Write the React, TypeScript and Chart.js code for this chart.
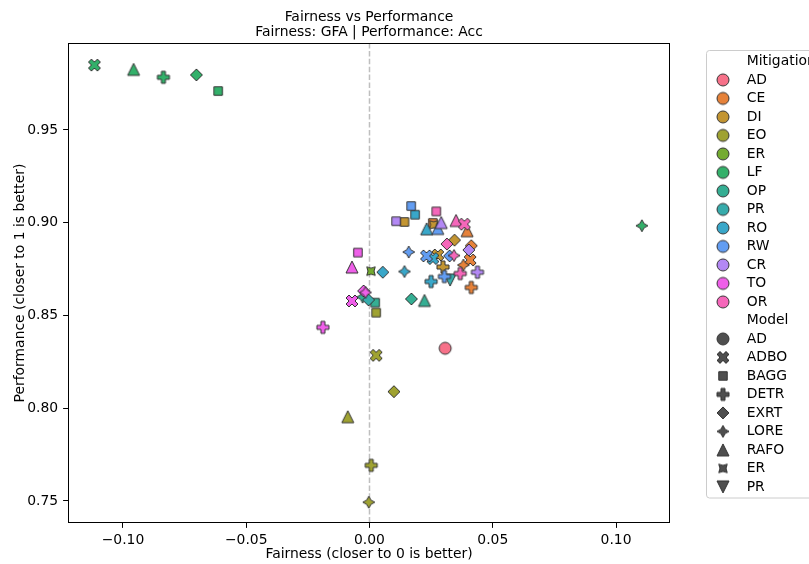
import React, { useEffect, useRef } from "react";
import { Chart, registerables } from "chart.js";

Chart.register(...registerables);

// [model, fairness (GFA), performance (Acc)]
type Pt = [string, number, number];

const TITLE_LINES = ["Fairness vs Performance", "Fairness: GFA | Performance: Acc"];
const X_LABEL = "Fairness (closer to 0 is better)";
const Y_LABEL = "Performance (closer to 1 is better)";

const MITIGATIONS = ["AD", "CE", "DI", "EO", "ER", "LF", "OP", "PR", "RO", "RW", "CR", "TO", "OR"];
const MITIGATION_COLORS = [
  "#f77189", "#e6823a", "#c39532", "#9fa231", "#74ab31", "#33b06a", "#35ae93",
  "#37abab", "#39a7c9", "#629df2", "#b388f4", "#ef5fe9", "#f567ba",
];
const MODELS = ["AD", "ADBO", "BAGG", "DETR", "EXRT", "LORE", "RAFO", "ER", "PR"];
const MODEL_SHAPES = ["circle", "xfill", "square", "plus", "diamond", "star4", "triUp", "star4rot", "triDown"];

const X_TICKS = [-0.1, -0.05, 0, 0.05, 0.1];
const Y_TICKS = [0.75, 0.8, 0.85, 0.9, 0.95];
const X_MIN = -0.1223;
const X_MAX = 0.1219;
const Y_MIN = 0.7381;
const Y_MAX = 0.9969;

const AD_PTS: Pt[] = [["AD", 0.0307, 0.8323]];
const CE_PTS: Pt[] = [
  ["BAGG", 0.0257, 0.8999], ["RAFO", 0.0396, 0.8957], ["EXRT", 0.0413, 0.8876],
  ["ADBO", 0.0408, 0.8799], ["LORE", 0.0381, 0.8772], ["DETR", 0.0413, 0.8651],
];
const DI_PTS: Pt[] = [
  ["BAGG", 0.0142, 0.9004], ["ER", 0.026, 0.8989], ["EXRT", 0.0345, 0.8906],
  ["ADBO", 0.0277, 0.8826], ["DETR", 0.0298, 0.8761],
];
const EO_PTS: Pt[] = [
  ["BAGG", 0.0027, 0.8515], ["ADBO", 0.0027, 0.8285], ["EXRT", 0.0099, 0.8089],
  ["RAFO", -0.0088, 0.7954], ["DETR", 0.0007, 0.7692], ["LORE", -0.0003, 0.7493],
];
const ER_PTS: Pt[] = [["ER", 0.0006, 0.8739]];
const LF_PTS: Pt[] = [
  ["ADBO", -0.1116, 0.985], ["RAFO", -0.0957, 0.9827], ["DETR", -0.0836, 0.9784],
  ["EXRT", -0.0702, 0.9797], ["BAGG", -0.0614, 0.971], ["LORE", 0.1105, 0.8984],
];
const OP_PTS: Pt[] = [
  ["LORE", -0.0028, 0.8599], ["BAGG", 0.0023, 0.8569], ["EXRT", 0.017, 0.8589], ["RAFO", 0.0223, 0.8581],
];
const PR_PTS: Pt[] = [["EXRT", -0.0004, 0.8584], ["PR", 0.0327, 0.8691]];
const RO_PTS: Pt[] = [
  ["BAGG", 0.0185, 0.9043], ["RAFO", 0.0232, 0.8967], ["EXRT", 0.0054, 0.8733],
  ["LORE", 0.0142, 0.8737], ["ADBO", 0.0257, 0.8807], ["DETR", 0.025, 0.8683],
];
const RW_PTS: Pt[] = [
  ["BAGG", 0.0169, 0.909], ["RAFO", 0.0277, 0.8969], ["LORE", 0.0159, 0.8842],
  ["ADBO", 0.0231, 0.8821], ["EXRT", 0.0325, 0.8821], ["DETR", 0.0304, 0.871],
];
const CR_PTS: Pt[] = [
  ["BAGG", 0.0108, 0.9008], ["RAFO", 0.0291, 0.9001], ["EXRT", 0.0403, 0.8853], ["DETR", 0.0438, 0.8733],
];
const TO_PTS: Pt[] = [
  ["BAGG", -0.0047, 0.8839], ["RAFO", -0.0071, 0.8761], ["EXRT", -0.0024, 0.8632],
  ["LORE", -0.0016, 0.8624], ["ADBO", -0.0071, 0.8578], ["DETR", -0.0189, 0.8436],
];
const OR_PTS: Pt[] = [
  ["BAGG", 0.0271, 0.9061], ["RAFO", 0.0351, 0.9012], ["ADBO", 0.0385, 0.8992],
  ["EXRT", 0.0314, 0.8885], ["LORE", 0.0343, 0.8823], ["DETR", 0.0368, 0.8726],
];

const SERIES: Pt[][] = [
  AD_PTS, CE_PTS, DI_PTS, EO_PTS, ER_PTS, LF_PTS, OP_PTS, PR_PTS, RO_PTS, RW_PTS, CR_PTS, TO_PTS, OR_PTS,
];

const FONT_FAMILY = "DejaVu Sans";
const FONT_SIZE = 13.9;
const MARKER_SIZE = 12;
const EDGE = "#333333";
const LEGEND_STYLE_COLOR = "#4f4f4f";

function tracePath(ctx: CanvasRenderingContext2D, shape: string, cx: number, cy: number, s: number) {
  ctx.beginPath();
  const poly = (pts: number[][]) => {
    pts.forEach(([px, py], i) => {
      const X = cx + px * s;
      const Y = cy - py * s;
      if (i === 0) ctx.moveTo(X, Y);
      else ctx.lineTo(X, Y);
    });
    ctx.closePath();
  };
  const star = (rotDeg: number) => {
    const pts: number[][] = [];
    for (let k = 0; k < 8; k++) {
      const a = ((90 + rotDeg + k * 45) * Math.PI) / 180;
      const r = k % 2 === 0 ? 0.5 : 0.25;
      pts.push([r * Math.cos(a), r * Math.sin(a)]);
    }
    poly(pts);
  };
  switch (shape) {
    case "circle":
      ctx.arc(cx, cy, s / 2, 0, Math.PI * 2);
      ctx.closePath();
      break;
    case "xfill":
      poly([[-1, -2], [0, -1], [1, -2], [2, -1], [1, 0], [2, 1], [1, 2], [0, 1], [-1, 2], [-2, 1], [-1, 0], [-2, -1]].map(([a, b]) => [a / 4, b / 4]));
      break;
    case "plus":
      poly([[-1, -3], [1, -3], [1, -1], [3, -1], [3, 1], [1, 1], [1, 3], [-1, 3], [-1, 1], [-3, 1], [-3, -1], [-1, -1]].map(([a, b]) => [a / 6, b / 6]));
      break;
    case "square": {
      const a = 0.5 / Math.SQRT2;
      poly([[-a, -a], [a, -a], [a, a], [-a, a]]);
      break;
    }
    case "diamond":
      poly([[0, 0.5], [-0.5, 0], [0, -0.5], [0.5, 0]]);
      break;
    case "star4":
      star(0);
      break;
    case "star4rot":
      star(45);
      break;
    case "triUp":
      poly([[0, 0.5], [-0.5, -0.5], [0.5, -0.5]]);
      break;
    case "triDown":
      poly([[0, -0.5], [-0.5, 0.5], [0.5, 0.5]]);
      break;
  }
}

const markerCache: Record<string, HTMLCanvasElement> = {};
function marker(shape: string, fill: string): HTMLCanvasElement {
  const key = shape + "|" + fill;
  if (markerCache[key]) return markerCache[key];
  const c = document.createElement("canvas");
  c.width = 20;
  c.height = 20;
  const ctx = c.getContext("2d")!;
  tracePath(ctx, shape, 10, 10, MARKER_SIZE);
  ctx.fillStyle = fill;
  ctx.fill();
  ctx.lineWidth = 1;
  ctx.strokeStyle = EDGE;
  ctx.lineJoin = "miter";
  ctx.stroke();
  markerCache[key] = c;
  return c;
}

const fmtTick = (v: number) => (v < 0 ? "\u2212" + Math.abs(v).toFixed(2) : Math.abs(v).toFixed(2));

const decorPlugin = {
  id: "decor",
  beforeDatasetsDraw(chart: any) {
    const { ctx, chartArea, scales } = chart;
    const x0 = scales.x.getPixelForValue(0);
    ctx.save();
    ctx.strokeStyle = "rgba(128,128,128,0.5)";
    ctx.lineWidth = 1.5;
    ctx.setLineDash([5.5, 2.4]);
    ctx.beginPath();
    ctx.moveTo(x0, chartArea.top);
    ctx.lineTo(x0, chartArea.bottom);
    ctx.stroke();
    ctx.restore();
  },
  afterDatasetsDraw(chart: any) {
    const { ctx, chartArea } = chart;
    ctx.save();
    ctx.strokeStyle = "#000";
    ctx.lineWidth = 1;
    ctx.strokeRect(
      Math.round(chartArea.left) + 0.5,
      Math.round(chartArea.top) + 0.5,
      Math.round(chartArea.right - chartArea.left) - 1,
      Math.round(chartArea.bottom - chartArea.top) - 1
    );
    ctx.restore();
  },
  afterDraw(chart: any) {
    const { ctx, chartArea } = chart;
    const font = `${FONT_SIZE}px "${FONT_FAMILY}"`;
    ctx.save();
    // title
    ctx.font = font;
    ctx.fillStyle = "#000";
    ctx.textAlign = "center";
    ctx.textBaseline = "middle";
    const cx = (chartArea.left + chartArea.right) / 2;
    ctx.fillText(TITLE_LINES[0], cx, 17);
    ctx.fillText(TITLE_LINES[1], cx, 32.5);

    // legend box
    const bx = 706.5, by = 50.5, bw = 130, bh = 447.5, r = 3;
    ctx.beginPath();
    ctx.moveTo(bx + r, by);
    ctx.lineTo(bx + bw - r, by);
    ctx.arcTo(bx + bw, by, bx + bw, by + r, r);
    ctx.lineTo(bx + bw, by + bh - r);
    ctx.arcTo(bx + bw, by + bh, bx + bw - r, by + bh, r);
    ctx.lineTo(bx + r, by + bh);
    ctx.arcTo(bx, by + bh, bx, by + bh - r, r);
    ctx.lineTo(bx, by + r);
    ctx.arcTo(bx, by, bx + r, by, r);
    ctx.closePath();
    ctx.fillStyle = "rgba(255,255,255,0.8)";
    ctx.fill();
    ctx.strokeStyle = "#cccccc";
    ctx.lineWidth = 1;
    ctx.stroke();

    const rows: { label: string; img: HTMLCanvasElement | null }[] = [];
    rows.push({ label: "Mitigation", img: null });
    MITIGATIONS.forEach((m, i) => rows.push({ label: m, img: marker("circle", MITIGATION_COLORS[i]) }));
    rows.push({ label: "Model", img: null });
    MODELS.forEach((m, i) => rows.push({ label: m, img: marker(MODEL_SHAPES[i], LEGEND_STYLE_COLOR) }));

    ctx.textAlign = "left";
    ctx.textBaseline = "middle";
    ctx.fillStyle = "#000";
    rows.forEach((row, i) => {
      const y = 61.4 + 18.5 * i;
      if (row.img) ctx.drawImage(row.img, 723 - 10, y - 10);
      ctx.fillText(row.label, 746.7, y);
    });
    ctx.restore();
  },
};

export default function App() {
  const ref = useRef<HTMLCanvasElement>(null);
  useEffect(() => {
    const canvas = ref.current!;
    const font = { family: FONT_FAMILY, size: FONT_SIZE };
    const datasets = SERIES.map((pts, i) => ({
      label: MITIGATIONS[i],
      data: pts.map((p) => ({ x: p[1], y: p[2] })),
      pointStyle: pts.map((p) => marker(MODEL_SHAPES[MODELS.indexOf(p[0])], MITIGATION_COLORS[i])),
      pointRadius: 6,
      backgroundColor: MITIGATION_COLORS[i],
      borderColor: EDGE,
      order: -i,
    }));
    const chart = new Chart(canvas, {
      type: "scatter",
      data: { datasets },
      plugins: [decorPlugin],
      options: {
        animation: false,
        responsive: false,
        devicePixelRatio: 1,
        layout: { padding: { top: 43, left: 0, right: 139, bottom: 0 } },
        plugins: {
          legend: { display: false },
          tooltip: { enabled: false },
          title: { display: false },
        },
        scales: {
          x: {
            type: "linear",
            min: X_MIN,
            max: X_MAX,
            afterBuildTicks: (s: any) => {
              s.ticks = X_TICKS.map((v) => ({ value: v }));
            },
            afterFit: (s: any) => {
              s.height = 41;
            },
            ticks: {
              callback: (v: any) => fmtTick(Number(v)),
              font,
              color: "#000",
              padding: 4.5,
              maxRotation: 0,
              autoSkip: false,
            },
            grid: { drawOnChartArea: false, drawTicks: true, tickLength: 4.9, color: "#000", lineWidth: 1 },
            border: { display: false },
            title: { display: true, text: X_LABEL, font, color: "#000", padding: { top: 0, bottom: 0.8 } },
          },
          y: {
            type: "linear",
            min: Y_MIN,
            max: Y_MAX,
            afterBuildTicks: (s: any) => {
              s.ticks = Y_TICKS.map((v) => ({ value: v }));
            },
            afterFit: (s: any) => {
              s.width = 68;
            },
            ticks: {
              callback: (v: any) => Number(v).toFixed(2),
              font,
              color: "#000",
              padding: 4.9,
              autoSkip: false,
            },
            grid: { drawOnChartArea: false, drawTicks: true, tickLength: 4.9, color: "#000", lineWidth: 1 },
            border: { display: false },
            title: { display: true, text: Y_LABEL, font, color: "#000", padding: { top: 11.6, bottom: 0 } },
          },
        },
      } as any,
    });
    return () => chart.destroy();
  }, []);
  return (
    <div style={{ position: "fixed", left: 0, top: 0, width: 809, height: 564, overflow: "hidden", background: "#fff" }}>
      <canvas ref={ref} width={809} height={564} style={{ display: "block", width: 809, height: 564 }} />
    </div>
  );
}
